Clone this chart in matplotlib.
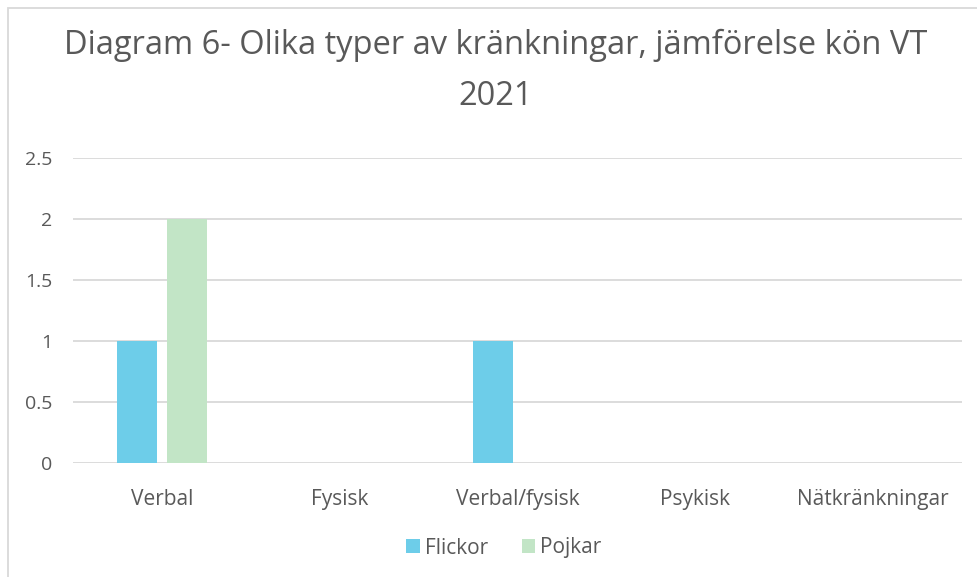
import numpy as np
import matplotlib.pyplot as plt
from matplotlib.patches import Rectangle

plt.rcParams['font.family'] = ['Open Sans', 'DejaVu Sans']

categories = ["Verbal", "Fysisk", "Verbal/fysisk", "Psykisk", "Nätkränkningar"]
flickor = [1, 0, 1, 0, 0]
pojkar = [2, 0, 0, 0, 0]

text_color = "#595959"
grid_color = "#d9d9d9"

fig = plt.figure(figsize=(9.78, 5.77), dpi=100)
# plot area in pixels: x 73..962, y 158..463
ax = fig.add_axes([73 / 978, 1 - 463 / 577, 889 / 978, 305 / 577])

x = np.arange(len(categories))
w = 0.225
off = 0.14
ax.bar(x - off, flickor, w, color="#6dcde9", label="Flickor", zorder=3)
ax.bar(x + off, pojkar, w, color="#c2e5c6", label="Pojkar", zorder=3)

ax.set_xlim(-0.5, len(categories) - 0.5)
ax.set_ylim(0, 2.5)
ax.set_yticks([0, 0.5, 1, 1.5, 2, 2.5])
ax.set_yticklabels(["0", "0.5", "1", "1.5", "2", "2.5"])
ax.set_xticks(x)
ax.set_xticklabels(categories)
ax.yaxis.grid(True, color=grid_color, linewidth=1.3, zorder=0)
ax.tick_params(length=0, labelsize=15, colors=text_color)
ax.tick_params(axis='x', pad=19)
ax.tick_params(axis='y', pad=15, labelsize=14)
for s in ax.spines.values():
    s.set_visible(False)

fig.text(496 / 978, 1 - 71 / 577, "Diagram 6- Olika typer av kränkningar, jämförelse kön VT\n2021",
         ha="center", va="center", fontsize=23.5, color=text_color, linespacing=1.7)

fig.legend(loc="center", bbox_to_anchor=(504 / 978, 1 - 548 / 577), ncol=2, frameon=False,
           fontsize=15, labelcolor=text_color, handlelength=0.65, handleheight=0.65,
           handletextpad=0.25, columnspacing=1.6)

fig.patches.append(Rectangle((8 / 978, -0.1), 1.2, 1 - 8 / 577 + 0.1, transform=fig.transFigure,
                             fill=False, edgecolor="#d9d9d9", linewidth=1.3))

fig.savefig("out.png", dpi=100)
